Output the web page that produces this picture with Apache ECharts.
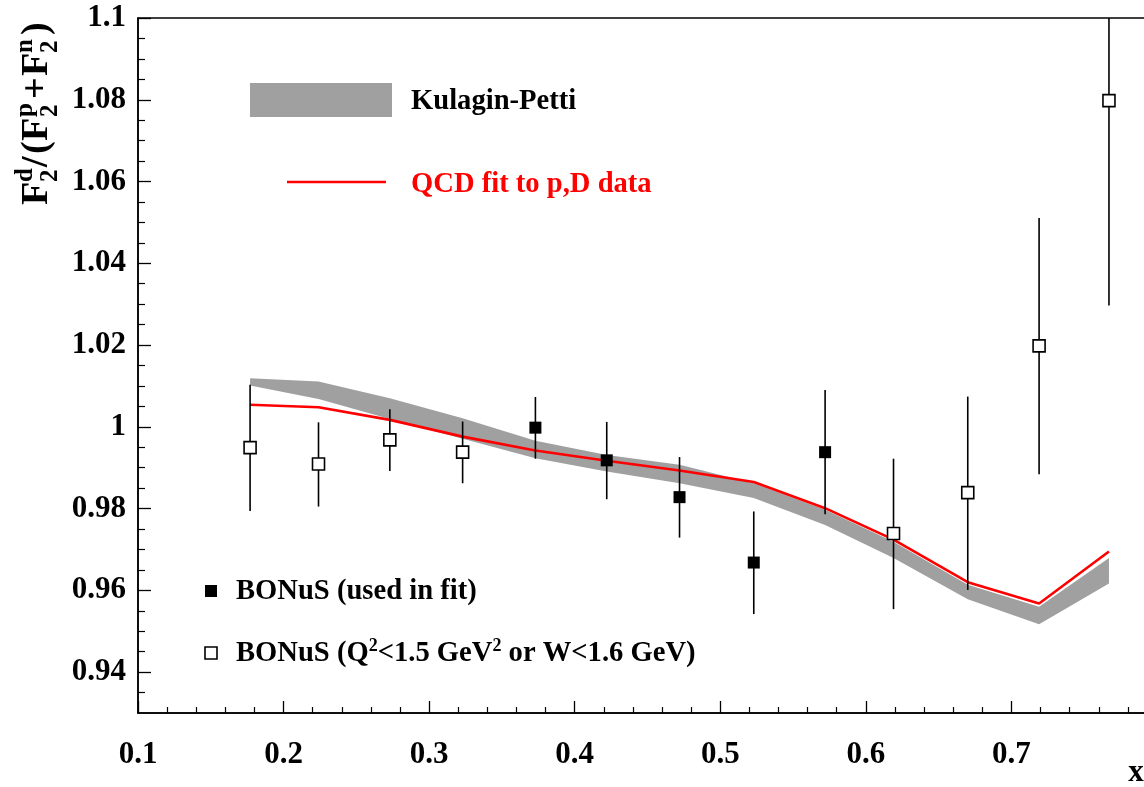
<!DOCTYPE html>
<html>
<head>
<meta charset="utf-8">
<script src="https://cdn.jsdelivr.net/npm/echarts@6/dist/echarts.min.js"></script>
<style>
  html, body { margin: 0; padding: 0; overflow: hidden; background: #fff; }
  #chart { width: 1160px; height: 787px; }
</style>
</head>
<body>
<div id="chart"></div>
<script>
// BONuS points: x, value, error bar ends, used in the fit or not
var xBonus    = [0.177, 0.224, 0.273, 0.323, 0.373, 0.422, 0.472, 0.523, 0.572, 0.619, 0.670, 0.719, 0.767];
var yBonus    = [0.9949, 0.9909, 0.9968, 0.9938, 0.9998, 0.9918, 0.9828, 0.9668, 0.9938, 0.9739, 0.9839, 1.0198, 1.0798];
var errLow    = [0.9794, 0.9805, 0.9892, 0.9862, 0.9922, 0.9823, 0.9729, 0.9542, 0.9786, 0.9554, 0.9601, 0.9884, 1.0297];
var errHigh   = [1.0103, 1.0011, 1.0043, 1.0013, 1.0073, 1.0012, 0.9926, 0.9793, 1.0090, 0.9922, 1.0074, 1.0511, 1.1300];
var usedInFit = [0, 0, 0, 0, 1, 1, 1, 1, 1, 0, 0, 0, 0];

// QCD fit line and Kulagin-Petti band, on the same x points
var qcdFit  = [1.0054, 1.0048, 1.0017, 0.9976, 0.9942, 0.9917, 0.9893, 0.9865, 0.9801, 0.9724, 0.9620, 0.9568, 0.9695];
var kpUpper = [1.0119, 1.0111, 1.0070, 1.0021, 0.9966, 0.9931, 0.9907, 0.9862, 0.9797, 0.9719, 0.9614, 0.9560, 0.9679];
var kpLower = [1.0101, 1.0068, 1.0019, 0.9971, 0.9923, 0.9891, 0.9862, 0.9826, 0.9760, 0.9679, 0.9578, 0.9517, 0.9617];

// y tick labels
var yMajorTicks = [0.94, 0.96, 0.98, 1, 1.02, 1.04, 1.06, 1.08, 1.1];

var yMinorTicks = [];
for (var i = 0; i < yMajorTicks.length; i++) {
	for (var k = 1; k <= 3; k++) {
		var v = Math.round((yMajorTicks[i] - k * 0.005) * 1000) / 1000;
		if (v > 0.93) yMinorTicks.push(v);
	}
}

var FONT = 'Liberation Serif';

var filled = [], open = [], bars = [], fitLine = [], band = [];
for (var i = 0; i < xBonus.length; i++) {
	if (usedInFit[i]) filled.push([xBonus[i], yBonus[i]]);
	else open.push([xBonus[i], yBonus[i]]);
	bars.push([xBonus[i], errLow[i], errHigh[i]]);
	fitLine.push([xBonus[i], qcdFit[i]]);
	band.push([xBonus[i], kpLower[i], kpUpper[i]]);
}

var chartObj = echarts.init(document.getElementById('chart'));

var labelStyle = { fontFamily: FONT, fontWeight: 'bold', fontSize: 31, color: '#000' };

// y axis title, built piece by piece and turned up
var titleParts = [
	{ t: 'F', x: 0, k: 'main' },
	{ t: 'd', x: 23, k: 'sup' }, { t: '2', x: 23, k: 'sub' },
	{ t: '/', x: 38, k: 'main' },
	{ t: '(', x: 51, k: 'main' },
	{ t: 'F', x: 64, k: 'main' },
	{ t: 'p', x: 88, k: 'sup' }, { t: '2', x: 88, k: 'sub' },
	{ t: '+', x: 106, k: 'main' },
	{ t: 'F', x: 129, k: 'main' },
	{ t: 'n', x: 152, k: 'sup' }, { t: '2', x: 152, k: 'sub' },
	{ t: ')', x: 170, k: 'main' }
];
var titleChildren = titleParts.map(function (p) {
	var size = p.k === 'main' ? 38 : 25;
	var y = p.k === 'main' ? -13 : (p.k === 'sup' ? -24 : 1);
	return {
		type: 'text', x: p.x, y: y,
		style: { text: p.t, fill: '#000', font: 'bold ' + size + 'px ' + FONT, align: 'left', verticalAlign: 'middle' }
	};
});

var option = {
	animation: false,
	backgroundColor: '#fff',
	grid: { left: 138, right: 0, top: 18, bottom: 74, show: true, borderColor: '#000', borderWidth: 1.5 },
	xAxis: {
		type: 'value', min: 0.1, max: 0.8, interval: 0.1,
		axisLine: { lineStyle: { color: '#000', width: 1.5 } },
		axisTick: { inside: true, length: 12, lineStyle: { color: '#000', width: 1.3 } },
		minorTick: { show: true, splitNumber: 5, length: 6, lineStyle: { color: '#000', width: 1.2 } },
		splitLine: { show: false },
		axisLabel: Object.assign({ margin: 26, formatter: function (v) { return v >= 0.79 ? '' : v.toFixed(1); } }, labelStyle)
	},
	yAxis: [{
		type: 'value', min: 0.93, max: 1.1,
		axisLine: { show: true, lineStyle: { color: '#000', width: 1.5 } },
		axisTick: { inside: true, length: 13, customValues: yMajorTicks, lineStyle: { color: '#000', width: 1.3 } },
		splitLine: { show: false },
		axisLabel: Object.assign({ margin: 12, customValues: yMajorTicks, padding: [9, 0, 0, 0] }, labelStyle)
	}, {
		type: 'value', min: 0.93, max: 1.1, position: 'left',
		axisLine: { show: false },
		axisTick: { inside: true, length: 7, customValues: yMinorTicks, lineStyle: { color: '#000', width: 1.2 } },
		splitLine: { show: false },
		axisLabel: { show: false }
	}],
	series: [
		{
			name: 'Kulagin-Petti', type: 'custom', data: band, z: 1, silent: true,
			renderItem: function (params, api) {
				if (params.dataIndex !== 0) return null;
				var pts = [];
				for (var j = 0; j < band.length; j++) pts.push(api.coord([band[j][0], band[j][2]]));
				for (var j = band.length - 1; j >= 0; j--) pts.push(api.coord([band[j][0], band[j][1]]));
				return { type: 'polygon', shape: { points: pts }, style: { fill: '#a0a0a0' } };
			}
		},
		{
			name: 'QCD fit to p,D data', type: 'line', data: fitLine, symbol: 'none',
			lineStyle: { color: '#ff0000', width: 2.6 }, z: 3
		},
		{
			name: 'errors', type: 'custom', data: bars, clip: true, z: 4,
			renderItem: function (params, api) {
				var p1 = api.coord([api.value(0), api.value(1)]);
				var p2 = api.coord([api.value(0), api.value(2)]);
				return { type: 'line', shape: { x1: p1[0], y1: p1[1], x2: p2[0], y2: p2[1] },
					style: { stroke: '#000', lineWidth: 1.6 } };
			}
		},
		{
			name: 'BONuS (used in fit)', type: 'scatter', data: filled, symbol: 'rect', symbolSize: 12,
			itemStyle: { color: '#000', opacity: 1 }, z: 5
		},
		{
			name: 'BONuS', type: 'scatter', data: open, symbol: 'rect', symbolSize: 12,
			itemStyle: { color: '#fff', borderColor: '#000', borderWidth: 1.6, opacity: 1 }, z: 5
		}
	],
	graphic: [
		{ type: 'group', x: 50, y: 205, rotation: Math.PI / 2, children: titleChildren },
		{ type: 'text', x: 1136, y: 773, style: { text: 'x', font: 'bold 31px ' + FONT, fill: '#000', align: 'center', verticalAlign: 'middle' } },
		// legend
		{ type: 'rect', shape: { x: 250, y: 83, width: 142, height: 34 }, style: { fill: '#a0a0a0' } },
		{ type: 'text', x: 411, y: 102, style: { text: 'Kulagin-Petti', font: 'bold 28.6px ' + FONT, fill: '#000', verticalAlign: 'middle' } },
		{ type: 'line', shape: { x1: 287, y1: 182, x2: 386, y2: 182 }, style: { stroke: '#ff0000', lineWidth: 2.6 } },
		{ type: 'text', x: 411, y: 185, style: { text: 'QCD fit to p,D data', font: 'bold 28.6px ' + FONT, fill: '#ff0000', verticalAlign: 'middle' } },
		{ type: 'rect', shape: { x: 205, y: 585, width: 12, height: 12 }, style: { fill: '#000' } },
		{ type: 'text', x: 236, y: 592, style: { text: 'BONuS (used in fit)', font: 'bold 28.6px ' + FONT, fill: '#000', verticalAlign: 'middle' } },
		{ type: 'rect', shape: { x: 205, y: 647, width: 12, height: 12 }, style: { fill: '#fff', stroke: '#000', lineWidth: 1.6 } },
		{
			type: 'text', x: 236, y: 654,
			style: {
				text: 'BONuS (Q{s|2}<1.5 GeV{s|2} or W<1.6 GeV)',
				font: 'bold 28.6px ' + FONT, fill: '#000', verticalAlign: 'middle',
				rich: { s: { font: 'bold 18px ' + FONT, fill: '#000', padding: [0, 0, 16, 0] } }
			}
		}
	]
};

chartObj.setOption(option);
</script>
</body>
</html>
